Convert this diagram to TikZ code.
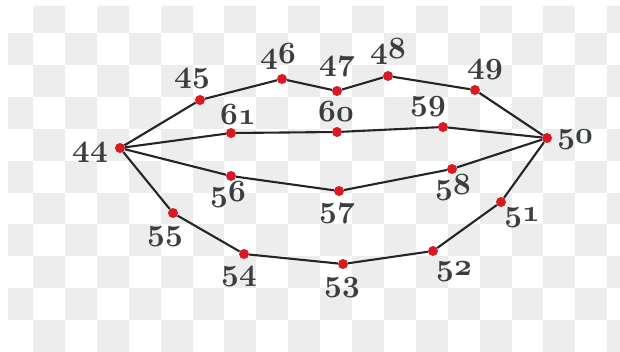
\RequirePackage{fix-cm}
\documentclass[tikz,border=0pt]{standalone}
\usepackage{xcolor}
\definecolor{bgsq}{HTML}{EDEDED}
\definecolor{dotred}{HTML}{D81B22}
\definecolor{lblue}{HTML}{3A3E40}
\definecolor{edgec}{HTML}{252525}
\newcommand\osn[1]{{\fontsize{31}{31}\usefont{OML}{cmm}{b}{it}#1}}
\begin{document}
\begin{tikzpicture}[x=1bp,y=-1bp,
  pt/.style={circle,fill=dotred,inner sep=0pt,minimum size=10bp},
  lbl/.style={text=lblue,inner sep=0pt},
  edge/.style={draw=edgec,line width=2.1bp}]
\useasboundingbox (0,0) rectangle (620,351);
\fill[white] (0,0) rectangle (620,351);
\begin{scope}
\clip (8,6) rectangle (620,351);
\foreach \i in {0,...,10}{
  \foreach \j in {0,...,19}{
    \pgfmathtruncatemacro\pp{mod(\i+\j,2)}
    \ifnum\pp=1 \fill[bgsq] ({1.1+31.9*\j},{1.1+31.9*\i}) rectangle ++(31.9,31.9);\fi
  }}
\end{scope}
% points
\node[pt] (p44) at (120,148) {};
\node[pt] (p45) at (200,100) {};
\node[pt] (p46) at (282,79) {};
\node[pt] (p47) at (337,91) {};
\node[pt] (p48) at (388,76) {};
\node[pt] (p49) at (475,90) {};
\node[pt] (p50) at (547,138) {};
\node[pt] (p61) at (231,133) {};
\node[pt] (p60) at (337,132) {};
\node[pt] (p59) at (443,127) {};
\node[pt] (p56) at (231,176) {};
\node[pt] (p57) at (339,191) {};
\node[pt] (p58) at (452,169) {};
\node[pt] (p55) at (173,213) {};
\node[pt] (p54) at (244,254) {};
\node[pt] (p53) at (343,264) {};
\node[pt] (p52) at (433,251) {};
\node[pt] (p51) at (501,202) {};
% edges
\path[edge] (p44) -- (p45) -- (p46) -- (p47) -- (p48) -- (p49) -- (p50);
\path[edge] (p44) -- (p61) -- (p60) -- (p59) -- (p50);
\path[edge] (p44) -- (p56) -- (p57) -- (p58) -- (p50);
\path[edge] (p44) -- (p55) -- (p54) -- (p53) -- (p52) -- (p51) -- (p50);
% labels
\node[lbl] (l44) at (90,153) {\osn{44}};
\node[lbl] (l45) at (192,79) {\osn{45}};
\node[lbl] (l46) at (278,57) {\osn{46}};
\node[lbl] (l47) at (337,67) {\osn{47}};
\node[lbl] (l48) at (388,52) {\osn{48}};
\node[lbl] (l49) at (485,70) {\osn{49}};
\node[lbl] (l50) at (575,140) {\osn{50}};
\node[lbl] (l61) at (238,115) {\osn{61}};
\node[lbl] (l60) at (336,112) {\osn{60}};
\node[lbl] (l59) at (428,107) {\osn{59}};
\node[lbl] (l56) at (228,195) {\osn{56}};
\node[lbl] (l57) at (337,214) {\osn{57}};
\node[lbl] (l58) at (453,188) {\osn{58}};
\node[lbl] (l55) at (165,237) {\osn{55}};
\node[lbl] (l54) at (239,277) {\osn{54}};
\node[lbl] (l53) at (342,288) {\osn{53}};
\node[lbl] (l52) at (454,272) {\osn{52}};
\node[lbl] (l51) at (522,218) {\osn{51}};
\end{tikzpicture}
\end{document}
